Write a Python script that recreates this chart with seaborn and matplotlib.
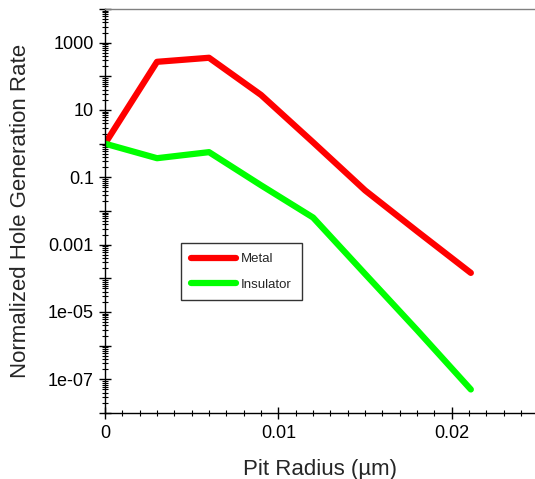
import numpy as np
import pandas as pd
import seaborn as sns
import matplotlib
matplotlib.use("Agg")
import matplotlib.pyplot as plt
from matplotlib.ticker import FixedLocator, FuncFormatter, LogLocator, MultipleLocator, NullFormatter

radius = [0.0, 0.003, 0.006, 0.009, 0.012, 0.015, 0.018, 0.0211]
metal = [1.0, 270, 356, 28, 1.1, 0.041, 0.0025, 1.45e-4]
insulator = [1.0, 0.37, 0.56, 0.058, 0.0064, 1.35e-4, 2.9e-6, 5e-8]
series_names = ["Metal", "Insulator"]
colors = ["#ff0000", "#00ff00"]

df = pd.DataFrame({
    "radius": radius * 2,
    "rate": metal + insulator,
    "series": [series_names[0]] * len(radius) + [series_names[1]] * len(radius),
})

sns.set_style("white")
plt.rcParams["font.family"] = ["Liberation Sans", "DejaVu Sans"]

fig = plt.figure(figsize=(5.35, 4.79), dpi=100)
ax = fig.add_axes([105 / 535, 66 / 479, 430 / 535, 404 / 479])

sns.lineplot(data=df, x="radius", y="rate", hue="series", palette=colors,
             linewidth=4.5, ax=ax, legend=True, estimator=None, sort=False)
ax.set_yscale("log")
ax.set_xlim(0, 0.0248)
ax.set_ylim(1e-8, 1e4)

ax.xaxis.set_major_locator(FixedLocator([0, 0.01, 0.02]))
ax.xaxis.set_major_formatter(FuncFormatter(lambda v, p: "0" if v == 0 else f"{v:g}"))
ax.xaxis.set_minor_locator(MultipleLocator(0.001))

decades = [10.0 ** e for e in range(-8, 5)]
ax.yaxis.set_major_locator(FixedLocator(decades))
def yfmt(v, p):
    e = int(round(np.log10(v)))
    if e % 2 == 0:
        return ""
    return {3: "1000", 1: "10", -1: "0.1", -3: "0.001", -5: "1e-05", -7: "1e-07"}.get(e, "")
ax.yaxis.set_major_formatter(FuncFormatter(yfmt))
ax.yaxis.set_minor_locator(LogLocator(base=10, subs=np.arange(2, 10), numticks=100))
ax.yaxis.set_minor_formatter(NullFormatter())

ax.tick_params(axis="both", which="major", direction="inout", length=8, width=1,
               color="black", labelsize=13, labelcolor="black")
ax.tick_params(axis="both", which="minor", direction="inout", length=5, width=0.8, color="black")
ax.tick_params(axis="x", which="major", pad=5)
ax.tick_params(axis="y", which="major", pad=4)
ax.tick_params(axis="x", bottom=True, which="both")
ax.tick_params(axis="y", left=True, which="both")

for s in ["left", "bottom"]:
    ax.spines[s].set_color("black")
    ax.spines[s].set_linewidth(1)
ax.spines["top"].set_color("#808080")
ax.spines["top"].set_linewidth(1)
ax.spines["right"].set_visible(False)

ax.set_xlabel("Pit Radius (µm)", fontsize=16, labelpad=12)
ax.set_ylabel("Normalized Hole Generation Rate", fontsize=16, labelpad=12)

leg = ax.legend(loc="upper left", bbox_to_anchor=(76 / 430, 1 - 234 / 404),
                borderaxespad=0, frameon=True, fancybox=False, fontsize=9.5,
                handlelength=3.4, borderpad=0.75, labelspacing=1.0, handletextpad=0.4)
leg.get_frame().set_edgecolor("black")
leg.get_frame().set_linewidth(1)
for line in leg.get_lines():
    line.set_linewidth(4.5)

fig.savefig("out.png", dpi=100)
